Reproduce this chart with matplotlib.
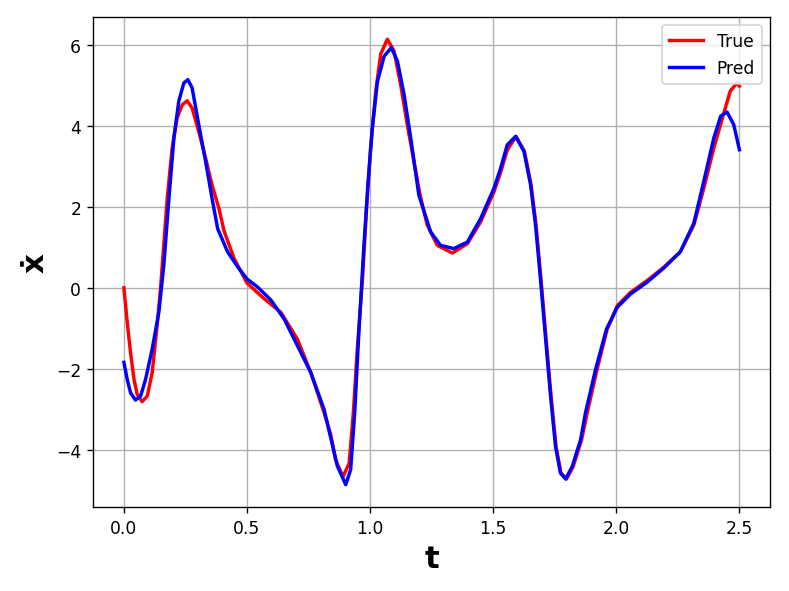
import matplotlib
matplotlib.use("Agg")
import matplotlib.pyplot as plt

t_true = [0.000, 0.0135, 0.027, 0.041, 0.054, 0.074, 0.095, 0.115, 0.135, 0.149, 0.160, 0.176,
          0.196, 0.216, 0.237, 0.257, 0.277, 0.304, 0.332, 0.358, 0.386, 0.407, 0.448, 0.500,
          0.570, 0.637, 0.705, 0.759, 0.813, 0.840, 0.860, 0.890, 0.915, 0.932, 0.948, 0.969,
          0.986, 1.002, 1.023, 1.043, 1.070, 1.097, 1.124, 1.151, 1.178, 1.203, 1.232, 1.273,
          1.334, 1.395, 1.449, 1.503, 1.530, 1.557, 1.593, 1.627, 1.654, 1.674, 1.694, 1.715,
          1.735, 1.755, 1.775, 1.798, 1.825, 1.859, 1.882, 1.922, 1.963, 2.004, 2.058, 2.125,
          2.193, 2.260, 2.315, 2.355, 2.396, 2.436, 2.463, 2.490, 2.500]
x_true = [0.00, -0.85, -1.60, -2.26, -2.63, -2.81, -2.67, -2.09, -0.93, 0.00, 0.90, 2.21,
          3.45, 4.19, 4.52, 4.62, 4.44, 3.86, 3.20, 2.54, 1.96, 1.40, 0.72, 0.12,
          -0.27, -0.60, -1.27, -2.09, -3.08, -3.62, -4.25, -4.66, -4.33, -3.08, -1.51, 0.22,
          2.00, 3.45, 4.86, 5.77, 6.14, 5.85, 5.02, 4.03, 3.12, 2.29, 1.55, 1.05,
          0.86, 1.09, 1.63, 2.37, 2.85, 3.40, 3.74, 3.37, 2.54, 1.55, 0.22, -1.27,
          -2.67, -3.91, -4.57, -4.72, -4.41, -3.75, -3.08, -2.01, -1.02, -0.44, -0.11, 0.18,
          0.51, 0.89, 1.55, 2.45, 3.45, 4.30, 4.86, 5.06, 4.98]

t_pred = [0.000, 0.0135, 0.027, 0.047, 0.068, 0.088, 0.115, 0.142, 0.162, 0.183, 0.203, 0.223,
          0.2435, 0.260, 0.277, 0.304, 0.332, 0.358, 0.381, 0.421, 0.468, 0.500, 0.543, 0.597,
          0.651, 0.705, 0.759, 0.813, 0.867, 0.901, 0.921, 0.9375, 0.955, 0.975, 0.991, 1.009,
          1.030, 1.057, 1.086, 1.111, 1.138, 1.165, 1.198, 1.246, 1.286, 1.340, 1.395, 1.449,
          1.503, 1.530, 1.557, 1.591, 1.625, 1.652, 1.672, 1.692, 1.713, 1.733, 1.753, 1.773,
          1.794, 1.821, 1.855, 1.875, 1.916, 1.960, 2.004, 2.058, 2.125, 2.193, 2.260, 2.315,
          2.355, 2.396, 2.424, 2.450, 2.477, 2.500]
x_pred = [-1.84, -2.26, -2.59, -2.77, -2.67, -2.26, -1.51, -0.60, 0.55, 2.21, 3.70, 4.61,
          5.06, 5.14, 4.94, 4.03, 3.12, 2.21, 1.46, 0.89, 0.47, 0.22, 0.02, -0.30,
          -0.77, -1.43, -2.09, -3.00, -4.40, -4.86, -4.49, -3.08, -1.02, 1.05, 2.54, 3.95,
          5.10, 5.72, 5.93, 5.60, 4.77, 3.70, 2.29, 1.38, 1.05, 0.97, 1.13, 1.71,
          2.46, 2.95, 3.53, 3.74, 3.37, 2.54, 1.55, 0.22, -1.27, -2.67, -3.91, -4.57,
          -4.72, -4.41, -3.75, -3.08, -2.01, -1.02, -0.48, -0.15, 0.14, 0.49, 0.89, 1.60,
          2.62, 3.70, 4.24, 4.34, 4.03, 3.41]

fig = plt.figure(figsize=(6.4, 4.8), dpi=123.3)
ax = fig.add_subplot(111)
fig.subplots_adjust(left=0.118, right=0.976, top=0.970, bottom=0.142)
ax.plot(t_true, x_true, color="red", lw=2, label="True")
ax.plot(t_pred, x_pred, color="blue", lw=2, label="Pred")
ax.grid(True)
ax.set_xlabel("t", fontsize=18, fontweight="bold")
ax.set_ylabel("ẋ", fontsize=18, fontweight="bold")
ax.legend(loc="upper right")
fig.savefig("out.png", dpi=123.3)
